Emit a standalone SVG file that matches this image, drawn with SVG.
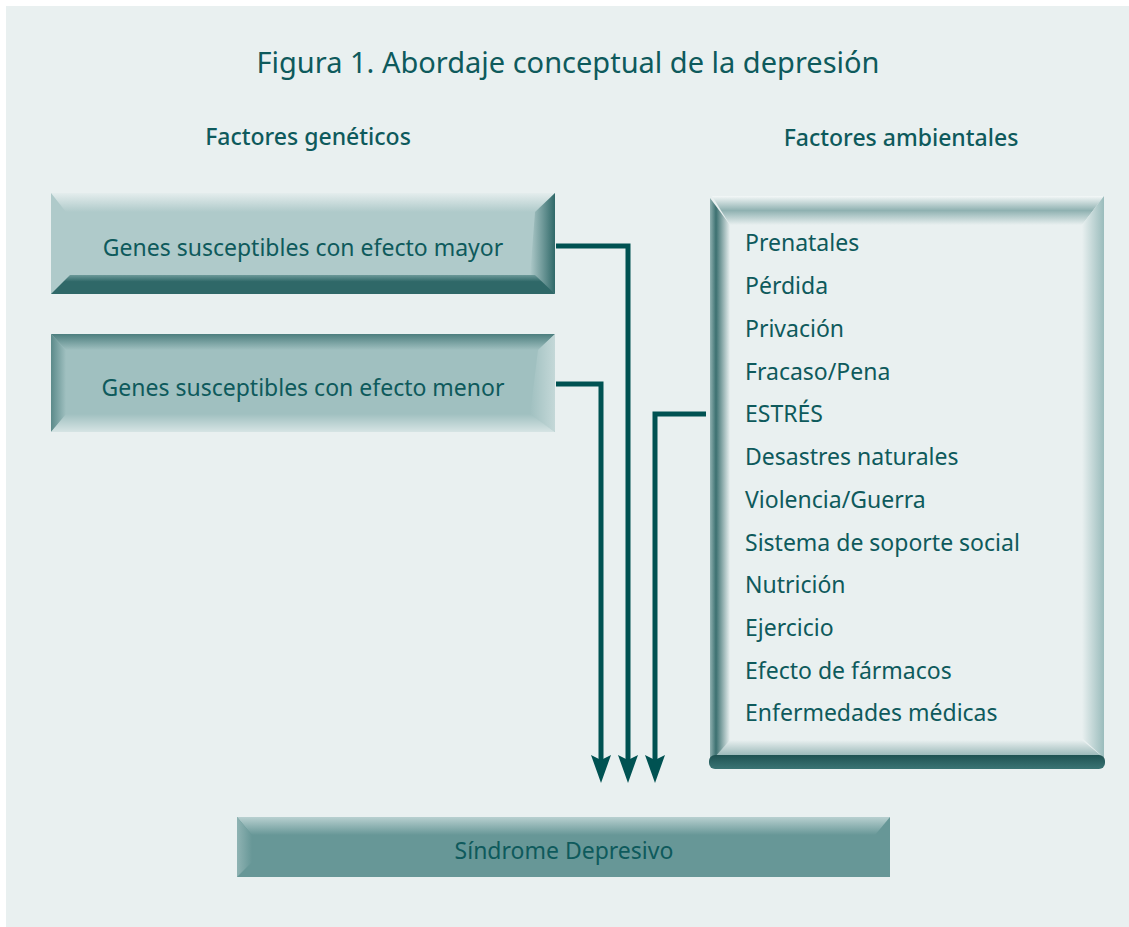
<svg xmlns="http://www.w3.org/2000/svg" width="1129" height="927" viewBox="0 0 1129 927">
<defs>
<style>
text{font-family:"Noto Sans",Lato,"Liberation Sans",sans-serif;fill:#0E5A5C}
.title{font-size:29px}
.head{font-size:23px;font-weight:500}
.lbl{font-size:23px}
.item{font-size:23px}
.conn{fill:none;stroke:#005252;stroke-width:5}
</style>
<marker id="ah" viewBox="0 0 28 20" refX="5" refY="10" markerWidth="28" markerHeight="20" markerUnits="userSpaceOnUse" orient="auto">
<path d="M0,0 L5,10 L0,20 L28,10 Z" fill="#005252"/>
</marker>
<linearGradient id="b1top" x1="0" y1="0" x2="0" y2="1"><stop offset="0" stop-color="#E4EDED"/><stop offset="1" stop-color="#AFCACA"/></linearGradient>
<linearGradient id="b1right" x1="0" y1="0" x2="1" y2="0"><stop offset="0" stop-color="#AFCACA"/><stop offset="1" stop-color="#2F6868"/></linearGradient>
<linearGradient id="b1bot" x1="0" y1="0" x2="0" y2="1"><stop offset="0" stop-color="#6C9999"/><stop offset="0.35" stop-color="#2F6868"/><stop offset="1" stop-color="#2F6868"/></linearGradient>
<linearGradient id="b2top" x1="0" y1="0" x2="0" y2="1"><stop offset="0" stop-color="#4C7E7E"/><stop offset="1" stop-color="#A0C0C0"/></linearGradient>
<linearGradient id="b2left" x1="0" y1="0" x2="1" y2="0"><stop offset="0" stop-color="#5B8A8A"/><stop offset="1" stop-color="#A0C0C0"/></linearGradient>
<linearGradient id="b2right" x1="0" y1="0" x2="1" y2="0"><stop offset="0" stop-color="#A0C0C0"/><stop offset="1" stop-color="#C4D8D8"/></linearGradient>
<linearGradient id="b2bot" x1="0" y1="0" x2="0" y2="1"><stop offset="0" stop-color="#A0C0C0"/><stop offset="1" stop-color="#D6E4E4"/></linearGradient>
<linearGradient id="rtop" x1="0" y1="0" x2="0" y2="1"><stop offset="0" stop-color="#F4F8F8"/><stop offset="0.5" stop-color="#8FB1B1"/><stop offset="1" stop-color="#E9F0F0"/></linearGradient>
<linearGradient id="rleft" x1="0" y1="0" x2="1" y2="0"><stop offset="0" stop-color="#8FB0B0"/><stop offset="0.3" stop-color="#3C7070"/><stop offset="1" stop-color="#E9F0F0"/></linearGradient>
<linearGradient id="rright" x1="0" y1="0" x2="1" y2="0"><stop offset="0" stop-color="#E9F0F0"/><stop offset="1" stop-color="#9ABCBC"/></linearGradient>
<linearGradient id="rbot" x1="0" y1="0" x2="0" y2="1"><stop offset="0" stop-color="#E9F0F0"/><stop offset="1" stop-color="#8EB0B0"/></linearGradient>
<linearGradient id="rbase" x1="0" y1="0" x2="0" y2="1"><stop offset="0" stop-color="#1F5252"/><stop offset="1" stop-color="#3A7474"/></linearGradient>
<linearGradient id="stop" x1="0" y1="0" x2="0" y2="1"><stop offset="0" stop-color="#B8D0D0"/><stop offset="1" stop-color="#679797"/></linearGradient>
<linearGradient id="sleft" x1="0" y1="0" x2="1" y2="0"><stop offset="0" stop-color="#8FB3B3"/><stop offset="1" stop-color="#679797"/></linearGradient>
</defs>
<rect x="0" y="0" width="1129" height="927" fill="#FFFFFF"/>
<rect x="6" y="6" width="1123" height="921" fill="#E9F0F0"/>
<text class="title" x="568" y="73" text-anchor="middle">Figura 1. Abordaje conceptual de la depresión</text>
<text class="head" x="308" y="145" text-anchor="middle">Factores genéticos</text>
<text class="head" x="901" y="146" text-anchor="middle">Factores ambientales</text>
<g id="node-mayor">
<rect x="51" y="193" width="504" height="101" fill="#AFCACA"/>
<polygon points="51,193 555,193 540,212 66,212" fill="url(#b1top)"/>
<polygon points="555,193 555,294 530,276 535,212" fill="url(#b1right)"/>
<polygon points="51,294 555,294 535,275 70,275" fill="url(#b1bot)"/>
<text class="lbl" x="303" y="256" text-anchor="middle">Genes susceptibles con efecto mayor</text>
</g>
<g id="node-menor">
<rect x="51" y="334" width="504" height="98" fill="#A0C0C0"/>
<polygon points="51,334 555,334 538,350 66,350" fill="url(#b2top)"/>
<polygon points="51,334 66,350 66,415 51,432" fill="url(#b2left)"/>
<polygon points="555,334 555,432 530,415 538,350" fill="url(#b2right)"/>
<polygon points="51,432 555,432 530,414 66,414" fill="url(#b2bot)"/>
<text class="lbl" x="303" y="396" text-anchor="middle">Genes susceptibles con efecto menor</text>
</g>
<g id="node-ambientales">
<rect x="710" y="196" width="394" height="572" fill="#E9F0F0"/>
<polygon points="712,196 1104,196 1082,225 730,225" fill="url(#rtop)"/>
<polygon points="1104,196 1104,758 1082,738 1082,225" fill="url(#rright)"/>
<polygon points="722,740 1082,740 1104,758 712,758" fill="url(#rbot)"/>
<polygon points="710,198 730,225 730,740 714,758 710,758" fill="url(#rleft)"/>
<rect x="709" y="755" width="396" height="14" rx="6" fill="url(#rbase)"/>
<text class="item" x="745" y="251">Prenatales</text>
<text class="item" x="745" y="294">Pérdida</text>
<text class="item" x="745" y="337">Privación</text>
<text class="item" x="745" y="380">Fracaso/Pena</text>
<text class="item" x="745" y="422">ESTRÉS</text>
<text class="item" x="745" y="465">Desastres naturales</text>
<text class="item" x="745" y="508">Violencia/Guerra</text>
<text class="item" x="745" y="551">Sistema de soporte social</text>
<text class="item" x="745" y="593">Nutrición</text>
<text class="item" x="745" y="636">Ejercicio</text>
<text class="item" x="745" y="679">Efecto de fármacos</text>
<text class="item" x="745" y="721">Enfermedades médicas</text>
</g>
<g id="node-sindrome">
<rect x="237" y="817" width="653" height="60" fill="#679797"/>
<polygon points="237,817 890,817 875,835 252,835" fill="url(#stop)"/>
<polygon points="237,817 252,835 252,862 237,877" fill="url(#sleft)"/>
<text class="lbl" x="564" y="859" text-anchor="middle">Síndrome Depresivo</text>
</g>
<g id="connectors">
<polyline class="conn" points="556,246 628,246 628,760" marker-end="url(#ah)"/>
<polyline class="conn" points="556,384 601,384 601,760" marker-end="url(#ah)"/>
<polyline class="conn" points="706,414 655,414 655,760" marker-end="url(#ah)"/>
</g>
</svg>
